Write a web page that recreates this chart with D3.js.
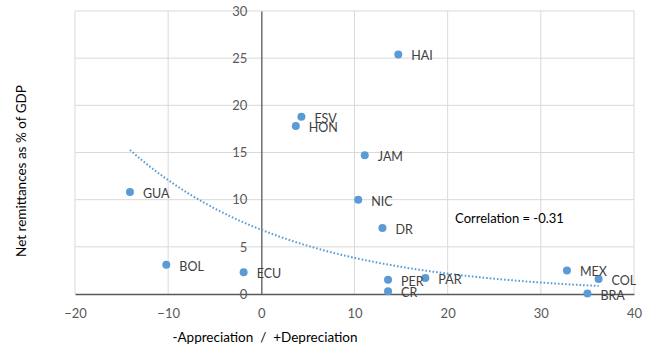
<!DOCTYPE html>
<html lang="en">
<head>
    <meta charset="UTF-8">
    <title>Remittances vs depreciation</title>
    <script src="https://d3js.org/d3.v7.min.js"></script>
    <style>
        body { margin: 0; background: #fff; }
        text { font-family: Lato, "Open Sans", sans-serif; }
    </style>
</head>
<body>
    <div class="chart"></div>
    <script>
        // data
        const countries = ["HAI", "ESV", "HON", "JAM", "GUA", "NIC", "DR", "BOL", "ECU", "PER", "CR", "PAR", "MEX", "COL", "BRA"];
        const depreciation = [14.7, 4.3, 3.7, 11.1, -14.1, 10.4, 13.0, -10.2, -1.9, 13.6, 13.6, 17.6, 32.8, 36.2, 35.0];
        const remittances = [25.4, 18.8, 17.8, 14.7, 10.8, 10.0, 7.0, 3.1, 2.3, 1.5, 0.3, 1.7, 2.5, 1.6, 0.05];
        const xTicks = [-20, -10, 0, 10, 20, 30, 40];
        const yTicks = [0, 5, 10, 15, 20, 25, 30];
        const correlationText = "Correlation = -0.31";

        const w = 653, h = 352;
        const margin = { top: 11, right: 19, bottom: 58, left: 75 };
        const blue = "#5B9BD5";

        const svg = d3.select(".chart").append("svg")
            .attr("width", w).attr("height", h);

        const x = d3.scaleLinear().domain([-20, 40]).range([margin.left, w - margin.right]);
        const y = d3.scaleLinear().domain([0, 30]).range([h - margin.bottom, margin.top]);

        // gridlines
        svg.append("g").selectAll("line")
            .data(yTicks.filter(d => d > 0))
            .enter().append("line")
            .attr("x1", x(-20)).attr("x2", x(40))
            .attr("y1", d => y(d)).attr("y2", d => y(d))
            .attr("stroke", "#d9d9d9").attr("stroke-width", 1);
        svg.append("g").selectAll("line")
            .data(xTicks.filter(d => d !== 0))
            .enter().append("line")
            .attr("x1", d => x(d)).attr("x2", d => x(d))
            .attr("y1", y(0)).attr("y2", y(30))
            .attr("stroke", "#d9d9d9").attr("stroke-width", 1);

        // axes crossing at the origin
        const xAxis = d3.axisBottom(x).tickValues(xTicks).tickSize(0).tickSizeOuter(0).tickPadding(15);
        const yAxis = d3.axisLeft(y).tickValues(yTicks).tickSize(0).tickSizeOuter(0).tickPadding(14);

        const gx = svg.append("g")
            .attr("transform", `translate(0, ${y(0)})`)
            .call(xAxis);
        const gy = svg.append("g")
            .attr("transform", `translate(${x(0)}, 0)`)
            .call(yAxis);
        [gx, gy].forEach(g => {
            g.select(".domain").attr("stroke", "#595959").attr("stroke-width", 1.3);
            g.selectAll("text").attr("fill", "#595959").style("font-size", "13px");
        });

        // exponential trendline fitted on ln(y)
        const n = depreciation.length;
        const lny = remittances.map(v => Math.log(v));
        const mx = d3.mean(depreciation), my = d3.mean(lny);
        let sxy = 0, sxx = 0;
        for (let i = 0; i < n; i++) {
            sxy += (depreciation[i] - mx) * (lny[i] - my);
            sxx += (depreciation[i] - mx) * (depreciation[i] - mx);
        }
        const b = sxy / sxx, a = Math.exp(my - b * mx);
        const [xmin, xmax] = d3.extent(depreciation);
        const trend = d3.range(xmin, xmax, 0.25).concat([xmax]).map(v => [v, a * Math.exp(b * v)]);

        svg.append("path")
            .datum(trend)
            .attr("fill", "none")
            .attr("stroke", blue)
            .attr("stroke-width", 2)
            .attr("stroke-dasharray", "1.6,2")
            .attr("d", d3.line().x(d => x(d[0])).y(d => y(d[1])));

        // points + labels
        const pts = countries.map((c, i) => ({ c: c, x: depreciation[i], y: remittances[i] }));
        svg.append("g").selectAll("circle")
            .data(pts)
            .enter().append("circle")
            .attr("cx", d => x(d.x))
            .attr("cy", d => y(d.y))
            .attr("r", 4)
            .attr("fill", blue);
        svg.append("g").selectAll("text")
            .data(pts)
            .enter().append("text")
            .attr("x", d => x(d.x) + 13)
            .attr("y", d => y(d.y) + 1.5)
            .attr("dominant-baseline", "central")
            .attr("fill", "#404040")
            .style("font-size", "12.5px")
            .text(d => d.c);

        svg.append("text")
            .attr("x", x(20.8))
            .attr("y", y(8.1))
            .attr("dominant-baseline", "central")
            .attr("fill", "#000")
            .style("font-size", "13px")
            .text(correlationText);

        // axis titles
        svg.append("text")
            .attr("x", 265)
            .attr("y", 337)
            .attr("text-anchor", "middle")
            .attr("dominant-baseline", "central")
            .attr("fill", "#000")
            .style("font-size", "13.5px")
            .style("white-space", "pre")
            .text("-Appreciation  /  +Depreciation");

        svg.append("text")
            .attr("transform", "translate(21, 171) rotate(-90)")
            .attr("text-anchor", "middle")
            .attr("dominant-baseline", "central")
            .attr("fill", "#000")
            .style("font-size", "13.5px")
            .text("Net remittances as % of GDP");
    </script>
</body>
</html>
